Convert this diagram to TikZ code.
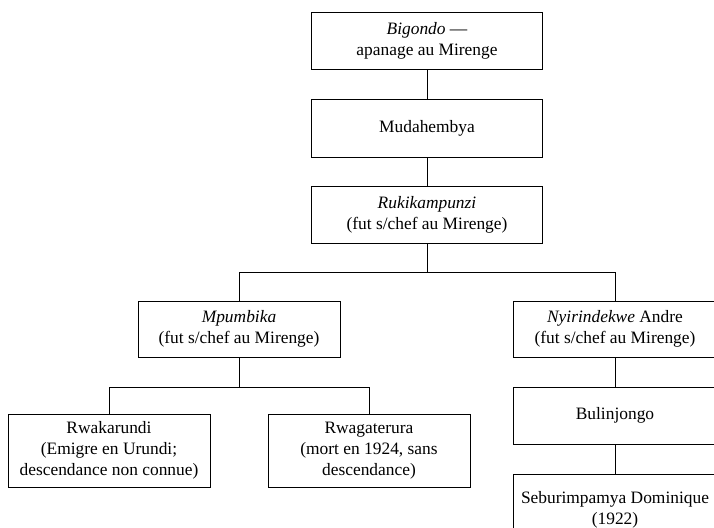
\documentclass[tikz,border=0pt]{standalone}
\usepackage{fontspec}
\setmainfont{Liberation Serif}
\begin{document}
\begin{tikzpicture}[x=1pt,y=-1pt,
  famille/.style={draw, line width=0.9pt, align=center, inner sep=0pt,
    font=\fontsize{17.4}{21}\selectfont},
  haut/.style={famille, minimum width=231pt, minimum height=57pt},
  branche/.style={famille, minimum width=202pt, minimum height=57pt},
  feuille/.style={famille, minimum width=202pt, minimum height=73pt},
  lien/.style={line width=0.9pt}]
\useasboundingbox (0,0) rectangle (714,527);
\clip (0,0) rectangle (714,527);

% main line of descent
\node[haut] (bigondo) at (427,40.5) {\textit{Bigondo} —\\apanage au Mirenge};
\node[haut, minimum height=58pt] (muda) at (427,128) {Mudahembya};
\node[haut] (ruki) at (427,214.5) {\textit{Rukikampunzi}\\(fut s/chef au Mirenge)};

% the two sons of Rukikampunzi
\node[branche, minimum height=56pt] (mpum) at (239,329) {\textit{Mpumbika}\\(fut s/chef au Mirenge)};
\node[branche, minimum height=56pt, minimum width=204pt] (nyir) at (615,329) {\textit{Nyirindekwe} Andre\\(fut s/chef au Mirenge)};

% descendants of Mpumbika
\node[feuille] (rwaka) at (109,450.5) {Rwakarundi\\(Emigre en Urundi;\\descendance non connue)};
\node[feuille] (rwaga) at (369,450.5) {Rwagaterura\\(mort en 1924, sans\\descendance)};

% descendants of Nyirindekwe
\node[branche, minimum width=204pt] (buli) at (615,415.5) {Bulinjongo};
\node[feuille, minimum width=204pt, minimum height=72pt] (sebu) at (615,510) {Seburimpamya Dominique\\(1922)};

% junctions
\coordinate (j1) at (427,272);
\coordinate (j2) at (239,387);

\draw[lien] (bigondo.south) -- (muda.north);
\draw[lien] (muda.south) -- (ruki.north);
\draw[lien] (ruki.south) -- (j1);
\draw[lien] (j1) -| (mpum.north);
\draw[lien] (j1) -| (nyir.north);
\draw[lien] (mpum.south) -- (j2);
\draw[lien] (j2) -| (rwaka.north);
\draw[lien] (j2) -| (rwaga.north);
\draw[lien] (nyir.south) -- (buli.north);
\draw[lien] (buli.south) -- (sebu.north);
\end{tikzpicture}
\end{document}
